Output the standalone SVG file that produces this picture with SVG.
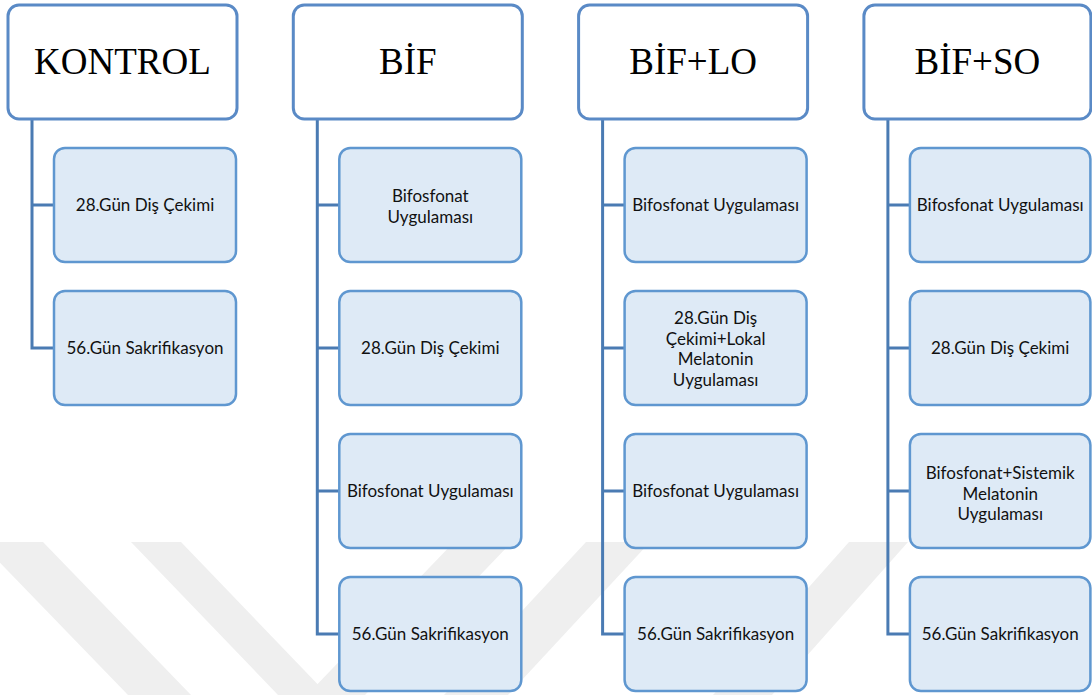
<svg xmlns="http://www.w3.org/2000/svg" width="1092" height="695" viewBox="0 0 1092 695">
<style>
.hdr{fill:#ffffff;stroke:#5a8ac6;stroke-width:3}
.hdrt{font-family:"Liberation Serif","Times New Roman",serif;font-size:37px;fill:#000;text-anchor:middle}
.box{fill:#deeaf6;stroke:#5f97d0;stroke-width:2.5}
.bt{font-family:Lato,"Open Sans",sans-serif;font-size:17px;fill:#111;text-anchor:middle}
.conn{fill:none;stroke:#4a7bb3;stroke-width:3}
.wm{fill:#efefef}
</style>
<rect x="0" y="0" width="1092" height="695" fill="#ffffff"/>
<g id="watermark">
<polygon class="wm" points="-20,542 43,542 191,695 128,695"/>
<polygon class="wm" points="131,542 181,542 328,695 278,695"/>
<polygon class="wm" points="454,542 512,542 365,695 307,695"/>
<polygon class="wm" points="586,542 650,542 508,695 444,695"/>
<polygon class="wm" points="849,542 908,542 772,695 713,695"/>
</g>
<g id="connectors">
<path class="conn" d="M32,119 V348 H54 M32,205 H54"/>
<path class="conn" d="M317.3,119 V634 H339.3 M317.3,205 H339.3 M317.3,348 H339.3 M317.3,491 H339.3"/>
<path class="conn" d="M602.6,119 V634 H624.6 M602.6,205 H624.6 M602.6,348 H624.6 M602.6,491 H624.6"/>
<path class="conn" d="M887.9,119 V634 H909.9 M887.9,205 H909.9 M887.9,348 H909.9 M887.9,491 H909.9"/>
</g>
<g id="kontrol">
<rect class="hdr" x="8" y="5" width="229" height="114" rx="11"/>
<text class="hdrt" x="122.5" y="74">KONTROL</text>
</g>
<g id="kontrol-1">
<rect class="box" x="54" y="148" width="182" height="114" rx="11"/>
<text class="bt" x="145" y="211">28.Gün Diş Çekimi</text>
</g>
<g id="kontrol-2">
<rect class="box" x="54" y="291" width="182" height="114" rx="11"/>
<text class="bt" x="145" y="354">56.Gün Sakrifikasyon</text>
</g>
<g id="bif">
<rect class="hdr" x="293.3" y="5" width="229" height="114" rx="11"/>
<text class="hdrt" x="407.8" y="74">BİF</text>
</g>
<g id="bif-1">
<rect class="box" x="339.3" y="148" width="182" height="114" rx="11"/>
<text class="bt" x="430.3" y="202">Bifosfonat</text>
<text class="bt" x="430.3" y="223">Uygulaması</text>
</g>
<g id="bif-2">
<rect class="box" x="339.3" y="291" width="182" height="114" rx="11"/>
<text class="bt" x="430.3" y="354">28.Gün Diş Çekimi</text>
</g>
<g id="bif-3">
<rect class="box" x="339.3" y="434" width="182" height="114" rx="11"/>
<text class="bt" x="430.3" y="497">Bifosfonat Uygulaması</text>
</g>
<g id="bif-4">
<rect class="box" x="339.3" y="577" width="182" height="114" rx="11"/>
<text class="bt" x="430.3" y="640">56.Gün Sakrifikasyon</text>
</g>
<g id="biflo">
<rect class="hdr" x="578.6" y="5" width="229" height="114" rx="11"/>
<text class="hdrt" x="693.1" y="74">BİF+LO</text>
</g>
<g id="biflo-1">
<rect class="box" x="624.6" y="148" width="182" height="114" rx="11"/>
<text class="bt" x="715.6" y="211">Bifosfonat Uygulaması</text>
</g>
<g id="biflo-2">
<rect class="box" x="624.6" y="291" width="182" height="114" rx="11"/>
<text class="bt" x="715.6" y="324">28.Gün Diş</text>
<text class="bt" x="715.6" y="344.5">Çekimi+Lokal</text>
<text class="bt" x="715.6" y="365">Melatonin</text>
<text class="bt" x="715.6" y="385.5">Uygulaması</text>
</g>
<g id="biflo-3">
<rect class="box" x="624.6" y="434" width="182" height="114" rx="11"/>
<text class="bt" x="715.6" y="497">Bifosfonat Uygulaması</text>
</g>
<g id="biflo-4">
<rect class="box" x="624.6" y="577" width="182" height="114" rx="11"/>
<text class="bt" x="715.6" y="640">56.Gün Sakrifikasyon</text>
</g>
<g id="bifso">
<rect class="hdr" x="863.9" y="5" width="227" height="114" rx="11"/>
<text class="hdrt" x="977.4" y="74">BİF+SO</text>
</g>
<g id="bifso-1">
<rect class="box" x="909.9" y="148" width="180.5" height="114" rx="11"/>
<text class="bt" x="1000.2" y="211">Bifosfonat Uygulaması</text>
</g>
<g id="bifso-2">
<rect class="box" x="909.9" y="291" width="180.5" height="114" rx="11"/>
<text class="bt" x="1000.2" y="354">28.Gün Diş Çekimi</text>
</g>
<g id="bifso-3">
<rect class="box" x="909.9" y="434" width="180.5" height="114" rx="11"/>
<text class="bt" x="1000.2" y="479">Bifosfonat+Sistemik</text>
<text class="bt" x="1000.2" y="499.5">Melatonin</text>
<text class="bt" x="1000.2" y="520">Uygulaması</text>
</g>
<g id="bifso-4">
<rect class="box" x="909.9" y="577" width="180.5" height="114" rx="11"/>
<text class="bt" x="1000.2" y="640">56.Gün Sakrifikasyon</text>
</g>
</svg>
